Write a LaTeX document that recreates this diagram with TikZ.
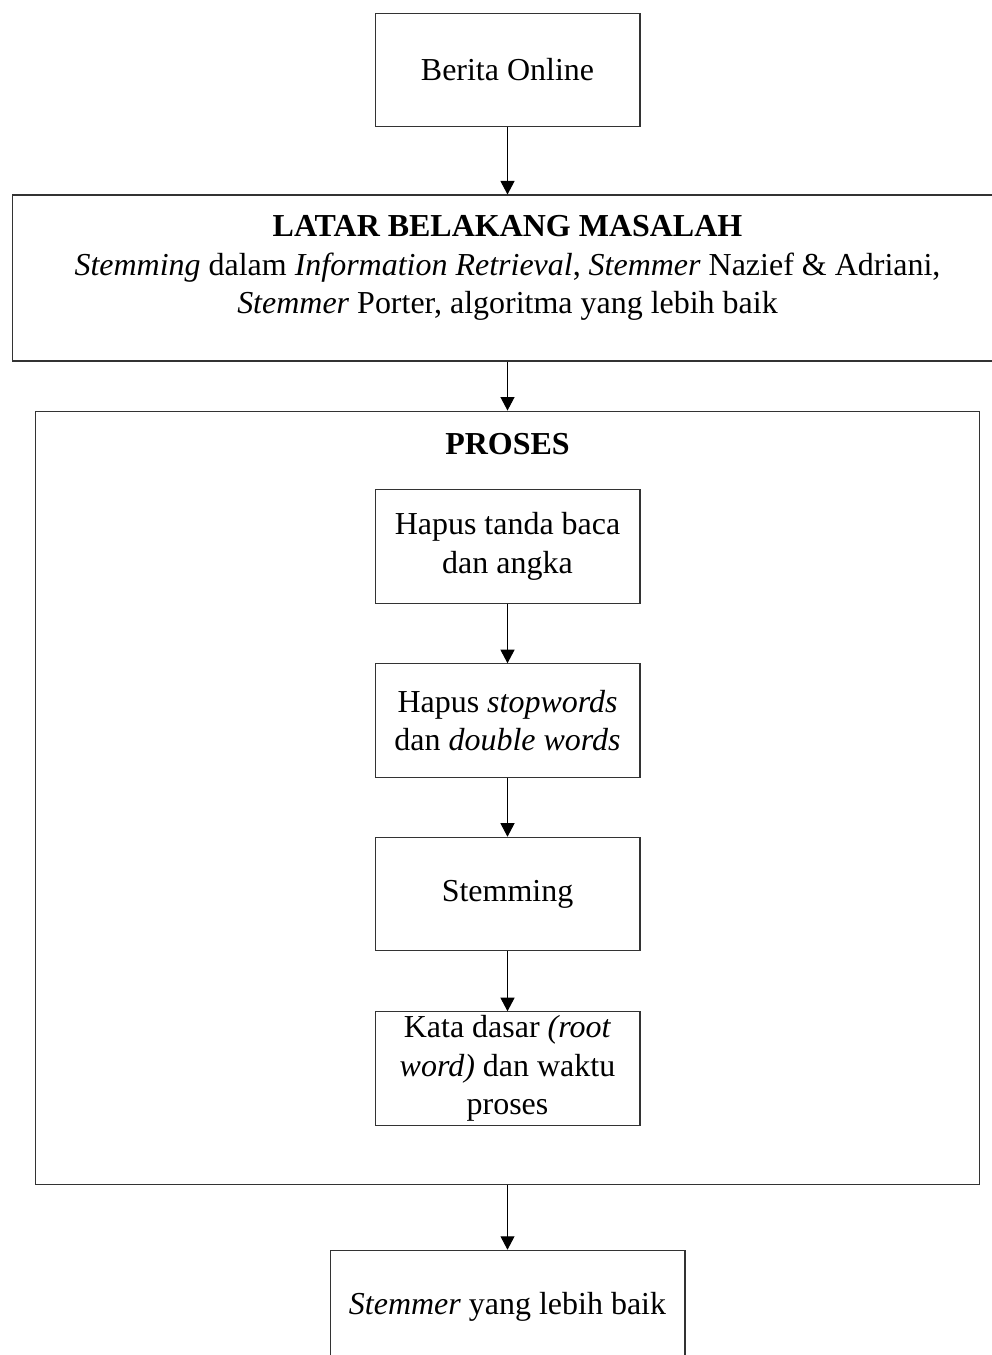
\documentclass[tikz,border=0pt]{standalone}
\usepackage{fontspec}
\setmainfont{Liberation Serif}
\usetikzlibrary{arrows.meta,positioning}

\begin{document}
\begin{tikzpicture}[x=0.02cm,y=-0.02cm,
        kotak/.style={draw=black!80,line width=0.6pt,minimum width=5.3cm,minimum height=2.27cm,inner sep=0pt,align=center},
        teks/.style={font=\fontsize{18.2}{22}\selectfont,align=center},
        panah/.style={-{Triangle[length=0.27cm,width=0.28cm]},line width=0.6pt}]
        \useasboundingbox (0,0) rectangle (991,1355);

        % Input
        \node[kotak,teks] (berita) at (507.5,70) {Berita Online};

        % Latar belakang (box with text near the top)
        \node[kotak,minimum width=19.82cm,minimum height=3.32cm] (latar) at (507.5,278) {};
        \node[teks] (latarteks) at (507.5,268) {\textbf{LATAR BELAKANG MASALAH}\\
            \textit{Stemming} dalam \textit{Information Retrieval}, \textit{Stemmer} Nazief \& Adriani,\\
            \textit{Stemmer} Porter, algoritma yang lebih baik};

        % Proses
        \node[kotak,minimum width=18.9cm,minimum height=15.48cm] (proses) at (507.5,798) {};
        \node[teks] (prosesteks) at (507.5,444) {\textbf{PROSES}};

        \node[kotak,teks] (hapus1) at (507.5,546.5) {Hapus tanda baca\\dan angka};
        \node[kotak,teks] (hapus2) at (507.5,720.5) {Hapus \textit{stopwords}\\dan \textit{double words}};
        \node[kotak,teks] (stem) at (507.5,894) {Stemming};
        \node[kotak,teks] (kata) at (507.5,1068.5) {Kata dasar \textit{(root}\\\textit{word)} dan waktu\\proses};

        % Output
        \node[kotak,teks,minimum width=7.1cm] (hasil) at (507.5,1307) {\textit{Stemmer} yang lebih baik};

        % Arrows
        \draw[panah] (berita) -- (latar);
        \draw[panah] (latar) -- (proses);
        \draw[panah] (hapus1) -- (hapus2);
        \draw[panah] (hapus2) -- (stem);
        \draw[panah] (stem) -- (kata);
        \draw[panah] (proses) -- (hasil);

    \end{tikzpicture}
\end{document}
